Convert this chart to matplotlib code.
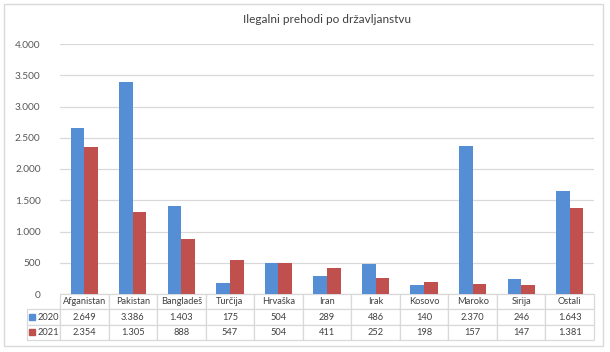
import matplotlib.pyplot as plt
import numpy as np
from matplotlib.patches import Rectangle
from matplotlib.ticker import FuncFormatter

countries = ["Afganistan", "Pakistan", "Bangladeš", "Turčija", "Hrvaška", "Iran",
             "Irak", "Kosovo", "Maroko", "Sirija", "Ostali"]
years = ["2020", "2021"]
vals_2020 = [2649, 3386, 1403, 175, 504, 289, 486, 140, 2370, 246, 1643]
vals_2021 = [2354, 1305, 888, 547, 504, 411, 252, 198, 157, 147, 1381]
colors = ["#558ED5", "#C0504D"]

plt.rcParams['font.family'] = ['Lato', 'DejaVu Sans']

W, H = 610, 352
fig = plt.figure(figsize=(W / 100, H / 100), dpi=100)
ax_l, ax_r, ax_t, ax_b = 60, 594, 44, 294
ax = fig.add_axes([ax_l / W, 1 - ax_b / H, (ax_r - ax_l) / W, (ax_b - ax_t) / H])

x = np.arange(len(countries))
bw = 0.28
ax.bar(x - bw / 2, vals_2020, bw, color=colors[0], zorder=3)
ax.bar(x + bw / 2, vals_2021, bw, color=colors[1], zorder=3)

ax.set_xlim(-0.5, len(countries) - 0.5)
ax.set_ylim(0, 4000)
ax.set_yticks(np.arange(0, 4001, 500))
ax.yaxis.set_major_formatter(FuncFormatter(lambda v, p: f"{int(v):,}".replace(",", ".")))
ax.tick_params(axis='y', length=0, labelsize=7.3, labelcolor="#595959", pad=14)
ax.set_xticks([])
ax.grid(axis='y', color="#D9D9D9", linewidth=0.9, zorder=0)
for s in ax.spines.values():
    s.set_visible(False)

ax.set_title("Ilegalni prehodi po državljanstvu", fontsize=8.5, color="#404040", pad=15)

def fmt(v):
    return f"{v:,}".replace(",", ".")

# data table below the bars
cell_text = [[""] + countries,
             [years[0]] + [fmt(v) for v in vals_2020],
             [years[1]] + [fmt(v) for v in vals_2021]]
first_w = 33 / (ax_r - ax_l)
col_w = [first_w] + [1 / len(countries)] * len(countries)
tab_h = 46 / (ax_b - ax_t)
tbl = ax.table(cellText=cell_text, colWidths=col_w, cellLoc='center',
               bbox=[-first_w, -tab_h, 1 + first_w, tab_h])
tbl.auto_set_font_size(False)
for (r, c), cell in tbl.get_celld().items():
    cell.set_edgecolor("#D9D9D9")
    cell.set_linewidth(0.9)
    cell.get_text().set_fontsize(6.7)
    cell.get_text().set_color("#404040")
    if r == 0 and c == 0:
        cell.visible_edges = ''
    if c == 0 and r > 0:
        cell.get_text().set_ha('right')
        cell._loc = 'right'
        cell.PAD = 0.04

# legend keys in the table
row_h = tab_h / 3
for i, col in enumerate(colors):
    ax.add_patch(Rectangle((-first_w + 0.004, -row_h * (i + 1.5) - 0.011), 0.011, 0.024,
                           transform=ax.transAxes, color=col, clip_on=False))

fig.patches.append(Rectangle((4 / W, 1 - 346 / H), 599 / W, 342 / H, transform=fig.transFigure,
                             fill=False, edgecolor="#D9D9D9", linewidth=1))

fig.savefig("out.png", dpi=100)
